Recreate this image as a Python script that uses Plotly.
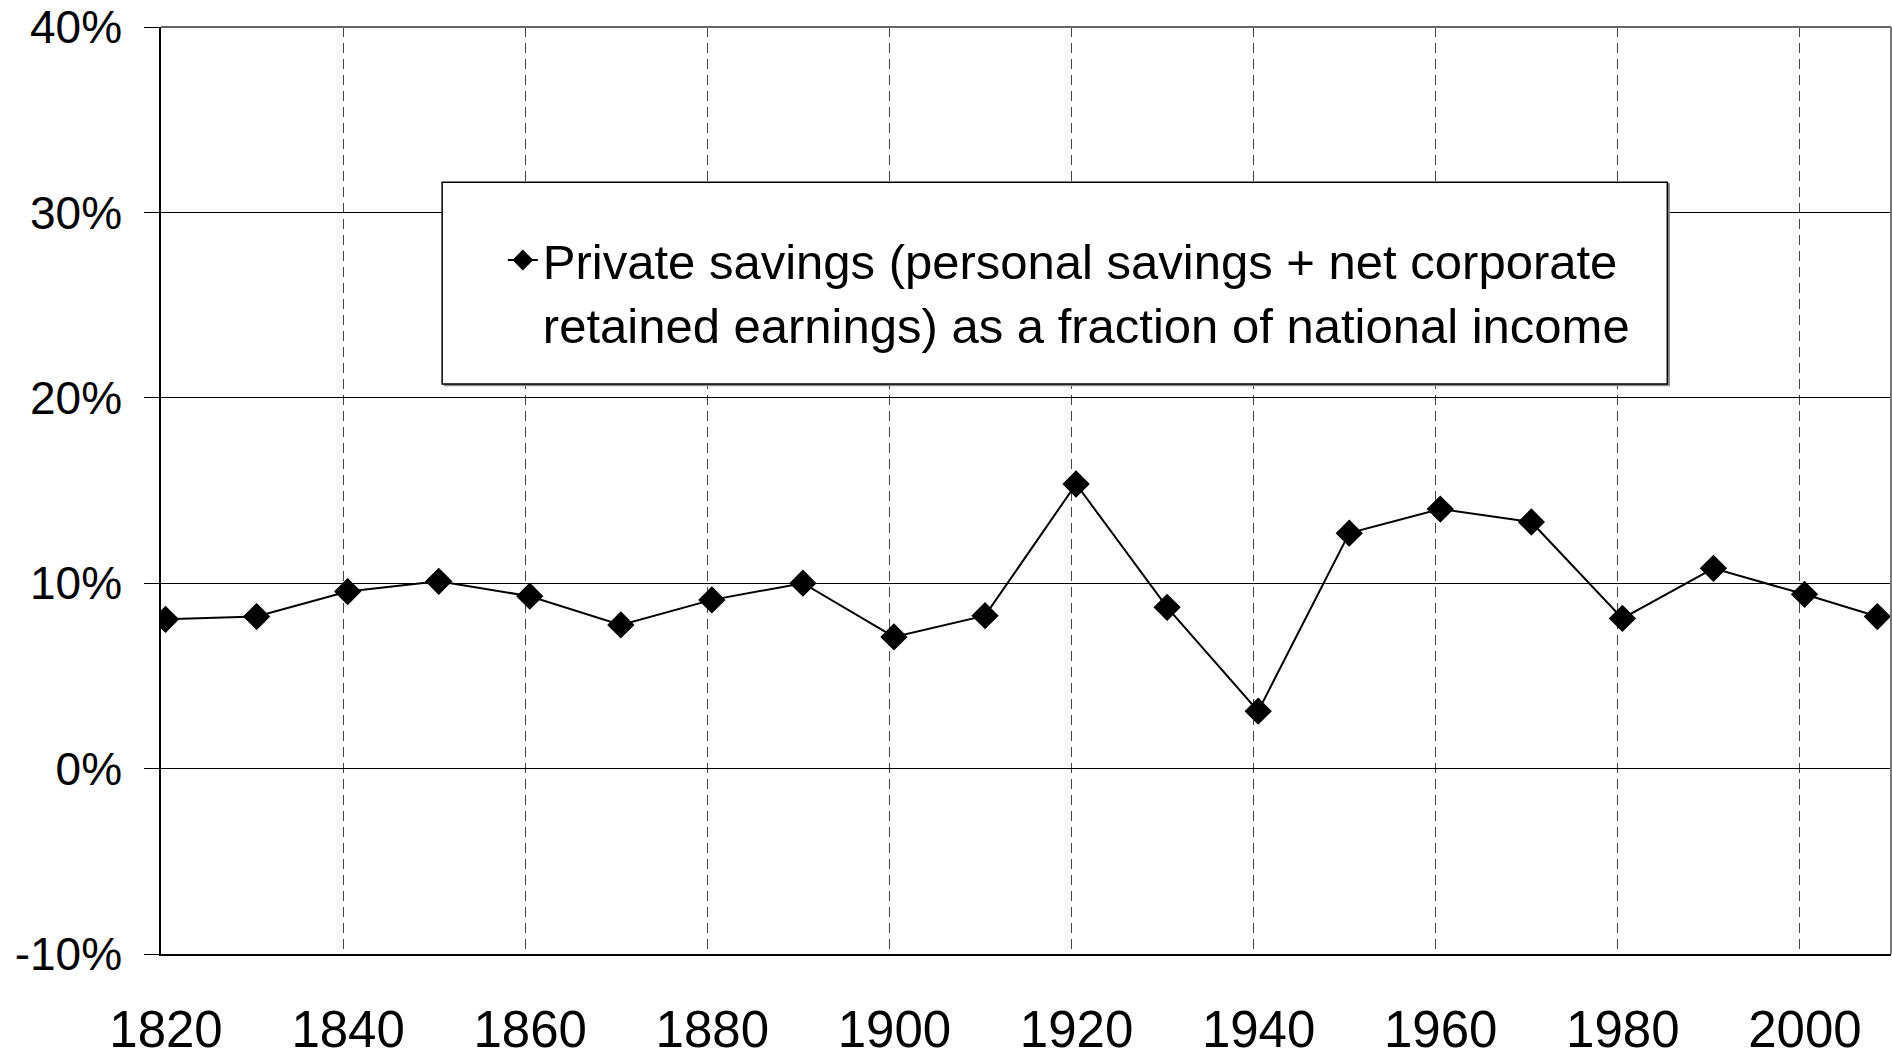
import plotly.graph_objects as go

years = [1820, 1830, 1840, 1850, 1860, 1870, 1880, 1890, 1900, 1910,
         1920, 1930, 1940, 1950, 1960, 1970, 1980, 1990, 2000, 2008]
savings = [8.05, 8.2, 9.55, 10.1, 9.3, 7.75, 9.1, 10.0, 7.1, 8.25,
           15.35, 8.7, 3.1, 12.7, 14.0, 13.3, 8.1, 10.8, 9.4, 8.2]
series_name = ("Private savings (personal savings + net corporate<br>"
               "retained earnings) as a fraction of national income")
x_ticks = list(range(1820, 2001, 20))
y_ticks = [-10, 0, 10, 20, 30, 40]
y_labels = ["-10%", "0%", "10%", "20%", "30%", "40%"]

FONT = "Liberation Sans, Arial, sans-serif"

# points are plotted at mid-year of each observation year
xpos = [y + 0.5 for y in years]

fig = go.Figure()
fig.add_trace(go.Scatter(
    x=xpos, y=savings, mode="lines+markers", name=series_name,
    line=dict(color="black", width=2),
    marker=dict(symbol="diamond", size=21, color="black"),
    showlegend=True,
))

fig.update_layout(
    width=1892, height=1057,
    margin=dict(l=161, r=1, t=27, b=103),
    paper_bgcolor="white", plot_bgcolor="white",
    font=dict(family=FONT, color="black"),
    showlegend=True,
    legend=dict(
        x=0.1976, y=0.790, xanchor="left", yanchor="top",
        bgcolor="rgba(0,0,0,0)", borderwidth=0,
        font=dict(family=FONT, size=49, color="black"),
        valign="top",
    ),
    xaxis=dict(
        range=[1820, 2010], tickvals=x_ticks,
        showgrid=True, gridcolor="#444444", gridwidth=1, griddash="10px,6px",
        showline=True, linecolor="black", linewidth=1.5,
        ticks="", tickfont=dict(family=FONT, size=51, color="black"),
        ticklabelstandoff=30, ticklabelshift=5, zeroline=False, automargin=False,
    ),
    yaxis=dict(
        range=[-10, 40], tickvals=y_ticks, ticktext=y_labels,
        showgrid=True, gridcolor="black", gridwidth=1,
        showline=True, linecolor="black", linewidth=1.5,
        ticks="outside", ticklen=15, tickcolor="black", tickwidth=1,
        tickfont=dict(family=FONT, size=46, color="black"),
        ticklabelstandoff=13, zeroline=False, automargin=False,
    ),
    shapes=[
        # top & right border (gray)
        dict(type="line", xref="paper", yref="paper", x0=0, x1=1, y0=1, y1=1,
             line=dict(color="#666666", width=2), layer="above"),
        dict(type="line", xref="paper", yref="paper", x0=1, x1=1, y0=0, y1=1,
             line=dict(color="#777777", width=2), layer="above"),
        # legend box shadow
        dict(type="rect", xref="paper", yref="paper",
             x0=0.1637, x1=0.8719, y0=0.6130, y1=0.8314,
             line=dict(color="#888888", width=1), fillcolor="#888888", layer="above"),
        # legend box
        dict(type="rect", xref="paper", yref="paper",
             x0=0.1625, x1=0.8707, y0=0.6148, y1=0.8326,
             line=dict(color="black", width=1.5), fillcolor="white", layer="above"),
    ],
)

fig.write_html("out.html", config={"displayModeBar": False},
               post_script="document.body.style.margin='0';")
